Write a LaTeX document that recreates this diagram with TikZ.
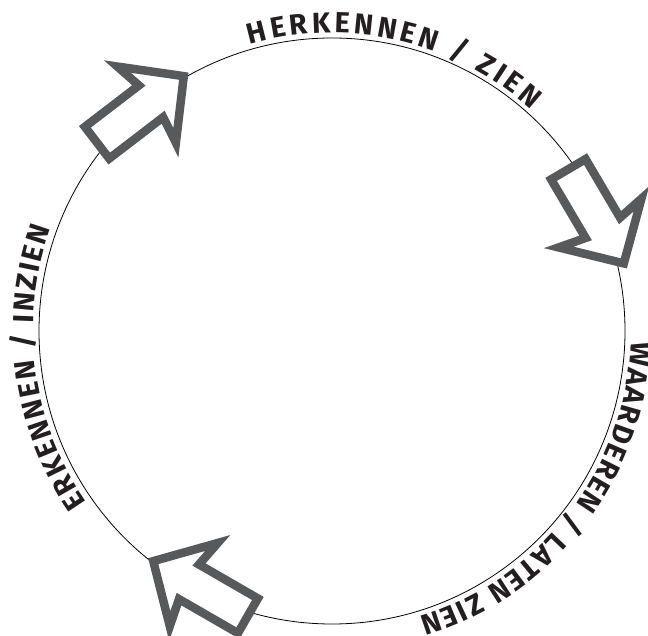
\documentclass[tikz,border=0pt]{standalone}
\usepackage{fontspec}
\newfontfamily\lblface{Fira Sans}
\usepackage{xcolor}
\definecolor{arrowgray}{RGB}{88,89,91}
\definecolor{labeltext}{RGB}{35,31,32}
\usepackage{tikz}
\usetikzlibrary{decorations.text}
\newcommand{\lblfont}{\lblface\bfseries\fontsize{29}{31}\selectfont}
\tikzset{
  cycleline/.style={draw=black, line width=0.8pt},
  arrowline/.style={draw=arrowgray, fill=white, line width=8.5pt, miter limit=10},
  lbl/.style={decorate, decoration={text along path, text align=fit to path, text color=labeltext, text={#1}}},
  hollowarrow/.pic={
    \path[arrowline] (-5.7,0) -- (-52.5,48) -- (-47,20) -- (-115,20)
      -- (-115,-20) -- (-47,-20) -- (-52.5,-48) -- cycle;
  },
}

\begin{document}
\begin{tikzpicture}[x=1pt, y=1pt]
  \useasboundingbox (0,0) rectangle (648,635);
  \coordinate (c) at (332,304);

  \draw[cycleline] (c) circle[radius=293pt];

  \begin{scope}
    \lblfont
    \path[lbl={HERKENNEN / ZIEN}]
      ([shift={(106:298)}]c) arc[start angle=106, end angle=48, radius=298pt];
    \path[lbl={WAARDEREN / LATEN ZIEN}]
      ([shift={(-2:299)}]c) arc[start angle=-2, end angle=-73, radius=299pt];
    \path[lbl={ERKENNEN / INZIEN}]
      ([shift={(215:299)}]c) arc[start angle=215, end angle=160, radius=299pt];
  \end{scope}

  \pic[rotate=37.5] at (188.3,562.3) {hollowarrow};
  \pic[rotate=-59.5] at (626.7,366.7) {hollowarrow};
  \pic[rotate=150] at (148.3,76.7) {hollowarrow};
\end{tikzpicture}
\end{document}
